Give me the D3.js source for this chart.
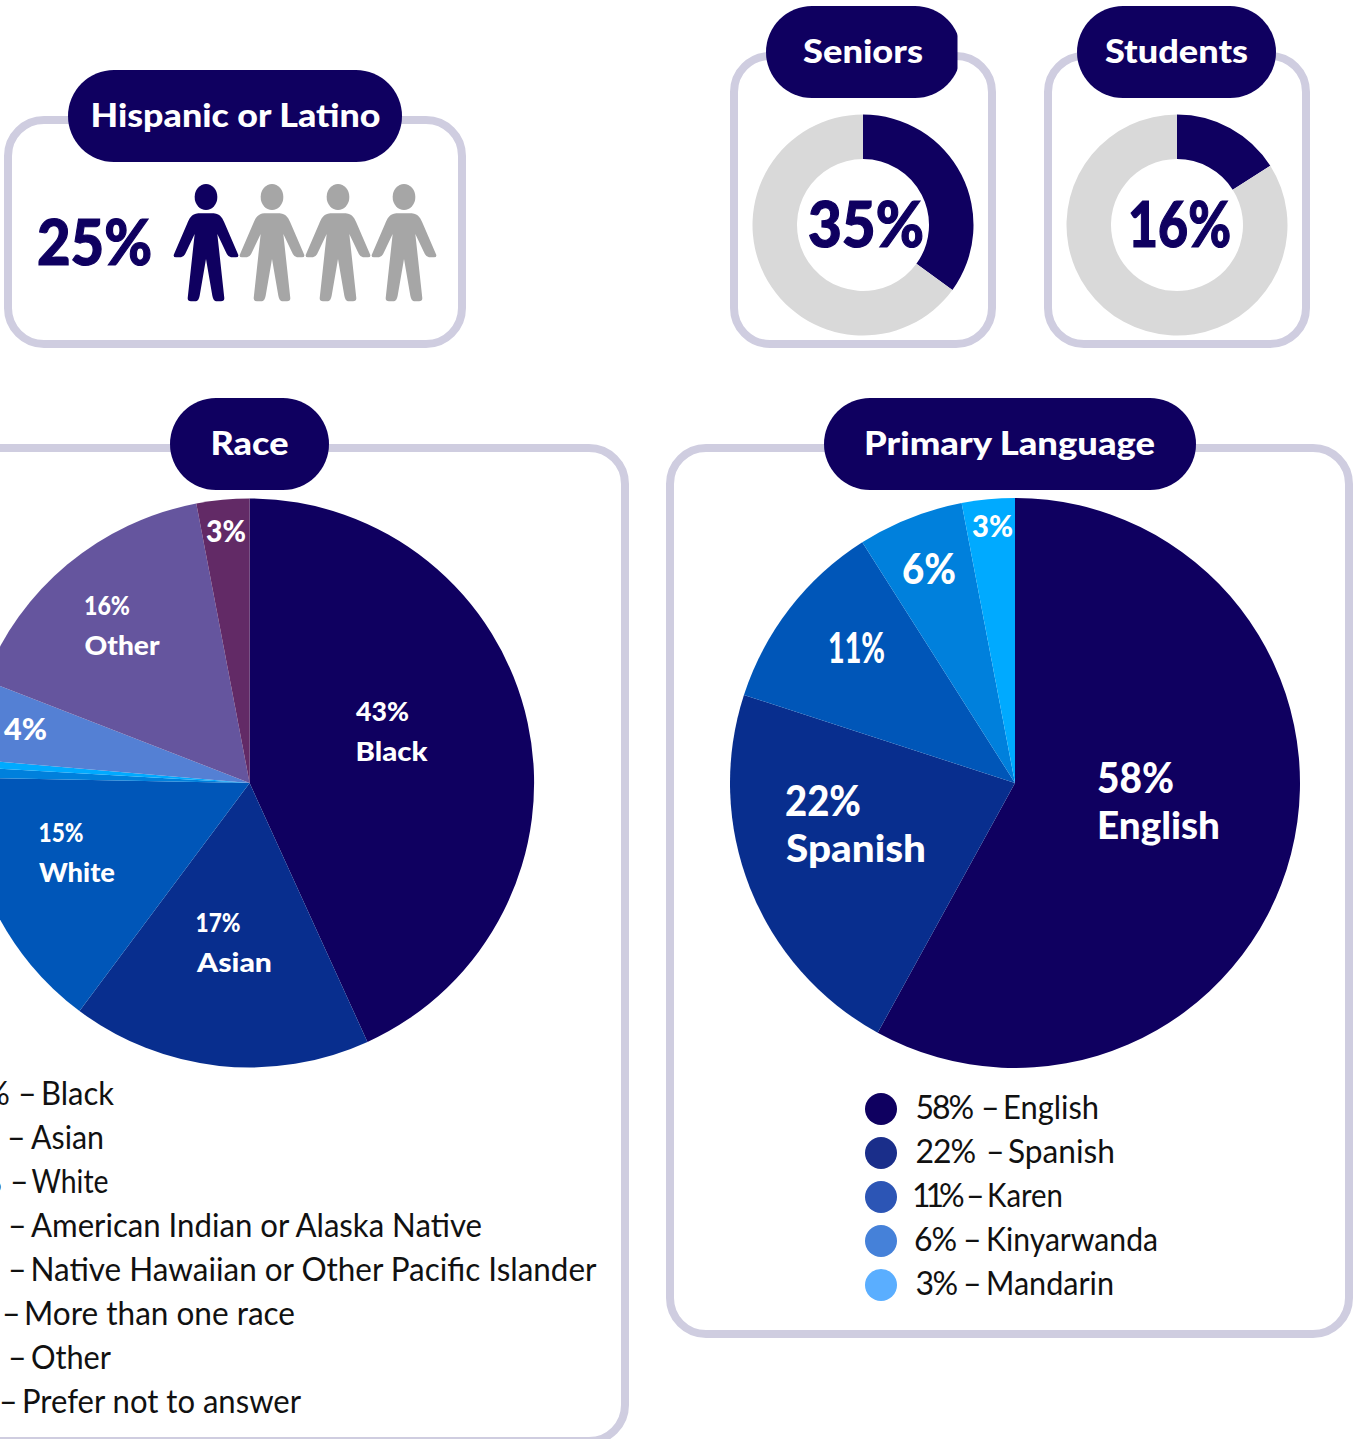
<!DOCTYPE html>
<html>
<head>
<meta charset="utf-8">
<script src="https://cdn.jsdelivr.net/npm/d3@7/dist/d3.min.js"></script>
<style>
html,body{margin:0;padding:0;background:#fff;overflow:hidden}
svg{display:block}
text{font-family:Lato,"Noto Sans",sans-serif}
</style>
</head>
<body>
<svg id="c" width="1354" height="1439"></svg>
<script>
// ---- data ----
const raceNames = ["Black","Asian","White","American Indian or Alaska Native","Native Hawaiian or Other Pacific Islander","More than one race","Other","Prefer not to answer"];
const raceLabels = ["43%","17%","15%","1%","1%","4%","16%","3%"];
const raceShares = [43.2,17,15.1,0.6,0.45,4.55,16.1,3];
const langNames = ["English","Spanish","Karen","Kinyarwanda","Mandarin"];
const langLabels = ["58%","22%","11%","6%","3%"];
const langShares = [58,22,11,6,3];
const seniorsShare = [35,65];
const studentsShare = [16,84];
const hispanicPersons = [1,0,0,0];

// ---- styles ----
const navy="#0f0060", frame="#cfcde0", grey="#d9d9d9", figureGrey="#a6a6a6", ink="#111";
const raceColors=[navy,"#082e8e","#0056b8","#0080dc","#00aaff","#5480d4","#65559e","#622a66"];
const langColors=[navy,"#082e8e","#0056b8","#0080dc","#00aaff"];
const langDots=[navy,"#1a2e8a","#2c55b5","#4581d9","#5aaeff"];

const svg=d3.select("#c");
const pie=d3.pie().sort(null).value(d=>d);

function frameBox(x0,y0,x1,y1){
  svg.append("rect").attr("x",x0).attr("y",y0).attr("width",x1-x0).attr("height",y1-y0)
    .attr("rx",36).attr("fill","#fff").attr("stroke",frame).attr("stroke-width",8);
}
function title(t,cx,base,w){
  svg.append("text").attr("x",cx).attr("y",base).attr("text-anchor","middle").attr("fill","#fff")
    .attr("font-size",33).attr("font-weight",900).attr("textLength",w).attr("lengthAdjust","spacingAndGlyphs").text(t);
}
function pill(x0,x1,y0,t,cx,base,w){
  svg.append("rect").attr("x",x0).attr("y",y0).attr("width",x1-x0).attr("height",92).attr("rx",46).attr("fill",navy);
  title(t,cx,base,w);
}
function label(t,x,y,size,w){
  const n=svg.append("text").attr("x",x).attr("y",y).attr("fill","#fff").attr("font-size",size).attr("font-weight",900).text(t);
  if(w) n.attr("textLength",w).attr("lengthAdjust","spacingAndGlyphs");
}
function bigNumber(t,x,y,w){
  svg.append("text").attr("x",x).attr("y",y).attr("fill",navy).attr("stroke",navy).attr("stroke-width",1.2)
    .attr("font-size",62).attr("font-weight",900).attr("textLength",w).attr("lengthAdjust","spacingAndGlyphs").text(t);
}
function slices(values,colors,cx,cy,r0,r1){
  const arc=d3.arc().innerRadius(r0).outerRadius(r1);
  svg.append("g").attr("transform",`translate(${cx},${cy})`)
    .selectAll("path").data(pie(values)).join("path").attr("d",arc).attr("fill",(d,i)=>colors[i]);
}

// ---- Hispanic or Latino ----
frameBox(8,120,462,344);
pill(68,402,70,"Hispanic or Latino",235.5,127,290);
bigNumber("25%",37,264.5,115);
const personBody="M-23,88 L23,88 C45,90 50,105 56,118 L97,213 Q98,220 90,220 L75,220 Q65,218 60,205 L34,150 L55,343 Q55,352 45,352 L30,352 Q22,350 19,335 L0,225 L-19,335 Q-22,350 -30,352 L-45,352 Q-55,352 -55,343 L-34,150 L-60,205 Q-65,218 -75,220 L-90,220 Q-98,220 -97,213 L-56,118 C-50,105 -45,90 -23,88 Z";
const personX=d3.scalePoint().domain(d3.range(hispanicPersons.length)).range([206,404]);
const persons=svg.append("g").selectAll("g").data(hispanicPersons).join("g")
  .attr("transform",(d,i)=>`translate(${personX(i)},184) scale(${1/3})`)
  .attr("fill",d=>d?navy:figureGrey);
persons.append("ellipse").attr("cx",0).attr("cy",39).attr("rx",34).attr("ry",39);
persons.append("path").attr("d",personBody);

// ---- Seniors ----
frameBox(734,56,992,344);
svg.append("clipPath").attr("id","seniorClip").append("rect").attr("x",700).attr("y",0).attr("width",257.5).attr("height",120);
svg.append("g").attr("clip-path","url(#seniorClip)").append("rect").attr("x",766).attr("y",6).attr("width",195).attr("height",92).attr("rx",46).attr("fill",navy);
title("Seniors",863,63,120);
slices(seniorsShare,[navy,grey],863,225,66,110.5);
bigNumber("35%",808,246.5,116);

// ---- Students ----
frameBox(1048,56,1306,344);
pill(1077,1276,6,"Students",1176.5,63,143);
slices(studentsShare,[navy,grey],1177,225,66,110.5);
bigNumber("16%",1128,246.5,103);

// ---- Race ----
frameBox(-300,448,625,1441);
pill(170,329,398,"Race",249.5,455,78);
slices(raceShares,raceColors,249.6,783,0,284.5);
label(raceLabels[0],356,721,27,53); label(raceNames[0],355.5,761,27,72);
label(raceLabels[1],195.5,932,27,45); label(raceNames[1],197,972,27,75);
label(raceLabels[2],38.5,842,27,45);  label(raceNames[2],39,882,27,76);
label(raceLabels[5],4,740,30,43);
label(raceLabels[6],84,615,27,46);  label(raceNames[6],84.5,655,27,75);
label(raceLabels[7],206,542,30,40);

// race legend: percent, dash and name placed apart; the percent runs off the left edge as in the source
const raceNameX=[41,31,31.5,31,30.5,24,31,22];
const raceNameW=[73,73,77,451,566,271,80,279];
const raceDashX=[20,9,12,10,10,4,10,1];
const raceRow=d3.scalePoint().domain(d3.range(raceNames.length)).range([1105,1413]);
const raceLeg=svg.append("g").attr("font-size",32).attr("fill",ink);
raceNames.forEach((n,i)=>{
  raceLeg.append("text").attr("x",raceDashX[i]-10).attr("y",raceRow(i)).attr("text-anchor","end").text(raceLabels[i]);
  raceLeg.append("text").attr("x",raceDashX[i]-2).attr("y",raceRow(i)).text("–");
  raceLeg.append("text").attr("x",raceNameX[i]).attr("y",raceRow(i))
    .attr("textLength",raceNameW[i]).attr("lengthAdjust","spacingAndGlyphs").text(n);
});

// ---- Primary Language ----
frameBox(670,448,1349,1334);
pill(824,1196,398,"Primary Language",1009.5,455,291);
slices(langShares,langColors,1015,783,0,285);
label(langLabels[0],1097,793,42,77); label(langNames[0],1097,839,38,123);
label(langLabels[1],785,816,42,76);  label(langNames[1],786,862,38,140);
label(langLabels[2],828,663,42,57);
label(langLabels[3],902,584,42,54);
label(langLabels[4],972,537,30,41);

const langRow=d3.scalePoint().domain(d3.range(langNames.length)).range([1119,1295]);
const langPctX=[915.5,915.5,912,914,915.5];
const langPctSpacing=[-2,-1,-5,-1,-1.5];
const langDashX=[983,988,968,965,965];
const langNameX=[1003,1008,987,986,986];
const langNameW=[96,107,76,172,128];
const leg=svg.append("g").attr("font-size",32).attr("fill",ink);
langNames.forEach((n,i)=>{
  const y=langRow(i);
  leg.append("circle").attr("cx",881).attr("cy",y-10).attr("r",16).attr("fill",langDots[i]);
  leg.append("text").attr("x",langPctX[i]).attr("y",y).attr("letter-spacing",langPctSpacing[i]).text(langLabels[i]);
  leg.append("text").attr("x",langDashX[i]-2).attr("y",y).text("–");
  leg.append("text").attr("x",langNameX[i]).attr("y",y).attr("textLength",langNameW[i]).attr("lengthAdjust","spacingAndGlyphs").text(n);
});
</script>
</body>
</html>
